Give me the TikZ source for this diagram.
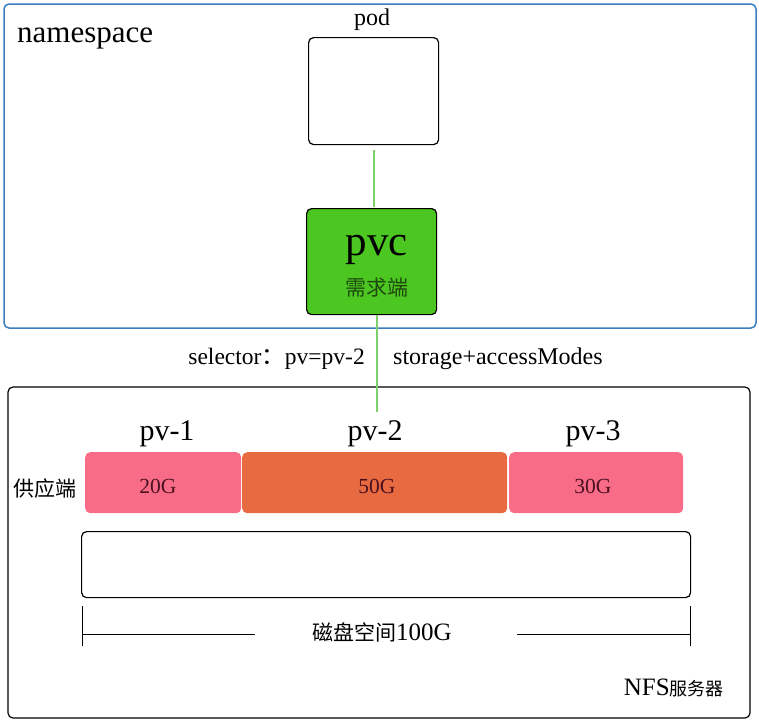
\documentclass[tikz,border=0pt]{standalone}
\usepackage{fontspec}
\setmainfont{Liberation Serif}
\newfontfamily\cjk{Noto Sans CJK SC}
\definecolor{nsblue}{HTML}{3A7EC0}
\definecolor{pvcgreen}{HTML}{4CC620}
\definecolor{linkgreen}{HTML}{7ED06A}
\definecolor{pvpink}{HTML}{F86C87}
\definecolor{pvorange}{HTML}{E86A40}
\definecolor{darkgreen}{HTML}{1E4A10}
\definecolor{darkred}{HTML}{4A1020}
\begin{document}
\begin{tikzpicture}[x=1pt,y=-1pt,
  frame/.style={draw, line width=1.2pt, rounded corners=5pt},
  box/.style={draw, line width=1.2pt, rounded corners=5pt, inner sep=0pt},
  pvbox/.style={rounded corners=5pt, inner sep=0pt, minimum height=61pt, anchor=north west},
  sizelab/.style={anchor=base, inner sep=0pt, text=darkred, font=\fontsize{21.5}{24}\selectfont},
  pvlab/.style={anchor=base, font=\fontsize{30}{34}\selectfont},
  link/.style={draw=linkgreen, line width=1.5pt},
  dim/.style={line width=1pt}
]
\useasboundingbox (0,0) rectangle (759,721);
% frames
\draw[frame, draw=nsblue, line width=1.5pt] (4,4) rectangle (756,328);
\draw[frame] (8,387) rectangle (750,718);
\node[anchor=base west, inner sep=0pt, font=\fontsize{31}{34}\selectfont] (ns) at (17,42) {namespace};
% pod
\node[box, minimum width=130pt, minimum height=107pt, anchor=north west] (pod) at (308,37) {};
\node[anchor=base, inner sep=0pt, font=\fontsize{24}{26}\selectfont] (podl) at (372,25) {pod};
% pvc
\node[box, fill=pvcgreen, minimum width=130pt, minimum height=106pt, anchor=north west] (pvc) at (306,208) {};
\node[anchor=base, inner sep=0pt, font=\fontsize{43}{46}\selectfont] (pvct) at (377,255) {pvc};
\node[font=\cjk\fontsize{21}{24}\selectfont, text=darkgreen] (pvcl) at (377,288) {需求端};
\coordinate (l1a) at (374,150);
\coordinate (l1b) at (374,207.4);
\coordinate (l2a) at (377,314.6);
\coordinate (pvend) at (377,412);
\draw[link] (l1a) -- (l1b);
\draw[link] (l2a) -- (pvend);
% selector labels
\node[anchor=base east, inner sep=0pt, font=\fontsize{23.5}{26}\selectfont] (sel) at (365,364) {selector{\cjk ：}pv=pv-2};
\node[anchor=base west, inner sep=0pt, font=\fontsize{24}{26}\selectfont] (stor) at (393,364) {storage+accessModes};
% pv labels
\node[pvlab] (pv1l) at (167,440) {pv-1};
\node[pvlab] (pv2l) at (375,440) {pv-2};
\node[pvlab] (pv3l) at (593,440) {pv-3};
% pv boxes
\node[pvbox, fill=pvpink, minimum width=156pt] (pv1) at (85,452) {};
\node[pvbox, fill=pvorange, minimum width=265pt] (pv2) at (242,452) {};
\node[pvbox, fill=pvpink, minimum width=174pt] (pv3) at (509,452) {};
\node[sizelab] (s1) at (158,493) {20G};
\node[sizelab] (s2) at (377,493) {50G};
\node[sizelab] (s3) at (593,493) {30G};
\node[font=\cjk\fontsize{21}{24}\selectfont] (gong) at (45,488) {供应端};
% disk
\node[box, minimum width=609pt, minimum height=66pt, anchor=north west] (disk) at (81,531) {};
\node[anchor=base, inner sep=0pt, font=\fontsize{25}{28}\selectfont] (diskl) at (382,640) {{\cjk\fontsize{21}{24}\selectfont 磁盘空间}100G};
\coordinate (tl1) at (82,606); \coordinate (tl2) at (82,646);
\coordinate (tr1) at (690,606); \coordinate (tr2) at (690,646);
\coordinate (hl) at (82,634); \coordinate (hr) at (690,634);
\coordinate (hlend) at (255,634); \coordinate (hrstart) at (517,634);
\draw[dim] (tl1) -- (tl2);
\draw[dim] (tr1) -- (tr2);
\draw[dim] (hl) -- (hlend);
\draw[dim] (hrstart) -- (hr);
\node[anchor=base east, inner sep=0pt, font=\fontsize{25}{28}\selectfont] (nfs) at (724,695) {NFS{\cjk\fontsize{18}{20}\selectfont 服务器}};
\end{tikzpicture}
\end{document}
